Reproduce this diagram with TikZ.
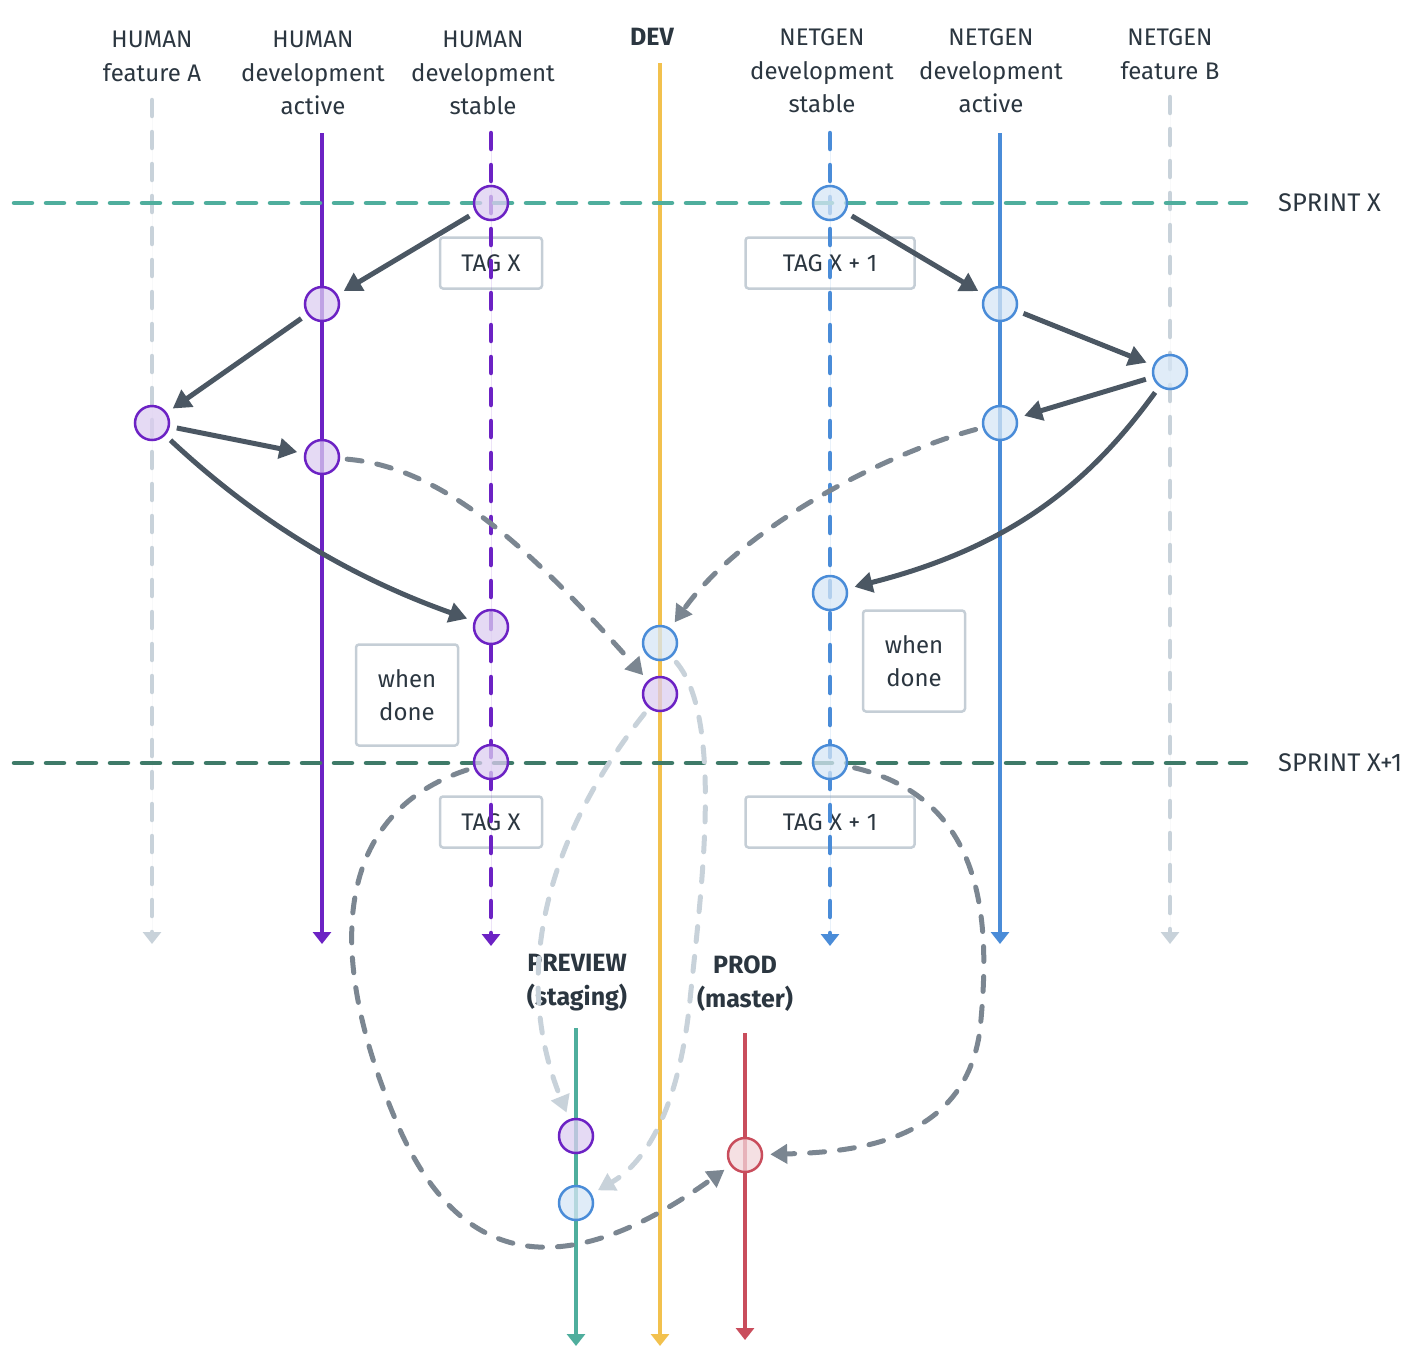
\documentclass[tikz,border=0pt]{standalone}
\usepackage{fontspec}
\setmainfont{Fira Sans}
\usetikzlibrary{arrows.meta}
\definecolor{cpurple}{HTML}{6C22C4}
\definecolor{cpurplef}{HTML}{DCCDF0}
\definecolor{cblue}{HTML}{4A8CD8}
\definecolor{cbluef}{HTML}{D6E6F5}
\definecolor{cred}{HTML}{C94D5C}
\definecolor{credf}{HTML}{F2D6DA}
\definecolor{cyellow}{HTML}{F2C14E}
\definecolor{cteal}{HTML}{4FAE9D}
\definecolor{cgreen}{HTML}{3E7A68}
\definecolor{clight}{HTML}{C8D2DA}
\definecolor{cdark}{HTML}{4B5763}
\definecolor{cgray}{HTML}{7B8691}
\definecolor{cbox}{HTML}{C5CED6}
\definecolor{ctext}{HTML}{2B3640}
\tikzset{
  lbl/.style={text=ctext,align=center,font=\fontsize{24}{33.5}\selectfont,inner sep=0},
  sprintlbl/.style={lbl,font=\fontsize{25.5}{34}\selectfont},
  boldlbl/.style={lbl,font=\fontsize{25}{34}\selectfont\bfseries},
  lane/.style={line width=4.5pt,-{Triangle[length=12pt,width=18pt]}},
  dlane/.style={lane,line cap=round,dash pattern=on 16pt off 16pt},
  sprintline/.style={line width=4.5pt,line cap=round,dash pattern=on 18pt off 14pt},
  commit/.style={circle,minimum size=34pt,inner sep=0,line width=2.5pt},
  pc/.style={commit,draw=cpurple,fill=cpurplef},
  bc/.style={commit,draw=cblue,fill=cbluef},
  rc/.style={commit,draw=cred,fill=credf},
  tagbox/.style={draw=cbox,line width=2.5pt,rounded corners=3pt,text=ctext,font=\fontsize{24}{33.5}\selectfont,align=center,inner sep=0},
  merge/.style={draw=cdark,line width=5pt,-{Triangle[length=18pt,width=20pt]},shorten <=7pt,shorten >=7pt},
  flow/.style={draw=cgray,line width=5pt,line cap=round,dash pattern=on 15pt off 15pt,-{Triangle[length=17pt,width=19pt]},shorten <=7pt,shorten >=7pt},
  lflow/.style={flow,draw=clight}
}
\begin{document}
\begin{tikzpicture}[x=1pt,y=-1pt]
\useasboundingbox (0,0) rectangle (1416,1352);
% headers
\node[lbl] (hA) at (152,56.5) {HUMAN\\feature A};
\node[lbl] (hDA) at (313,73) {HUMAN\\development\\active};
\node[lbl] (hDS) at (483,73) {HUMAN\\development\\stable};
\node[boldlbl] (hDev) at (652,37) {DEV};
\node[lbl] (nDS) at (822,71) {NETGEN\\development\\stable};
\node[lbl] (nDA) at (991,71) {NETGEN\\development\\active};
\node[lbl] (nB) at (1170,54) {NETGEN\\feature B};
\node[boldlbl] (hPrev) at (577,983) {PREVIEW\\(staging)};
\node[boldlbl] (hProd) at (745,984) {PROD\\(master)};
\node[sprintlbl,anchor=west] (sx) at (1278,203) {SPRINT X};
\node[sprintlbl,anchor=west] (sx1) at (1278,763) {SPRINT X+1};
% lane coordinates
\coordinate (aS) at (152,100); \coordinate (aE) at (152,944);
\coordinate (daS) at (322,133); \coordinate (daE) at (322,944);
\coordinate (dsS) at (491,133); \coordinate (dsE) at (491,946);
\coordinate (devS) at (660,63); \coordinate (devE) at (660,1346);
\coordinate (ndsS) at (830,133); \coordinate (ndsE) at (830,946);
\coordinate (ndaS) at (1000,133); \coordinate (ndaE) at (1000,944);
\coordinate (bS) at (1170,97); \coordinate (bE) at (1170,944);
\coordinate (pvS) at (576,1028); \coordinate (pvE) at (576,1346);
\coordinate (prS) at (745,1033); \coordinate (prE) at (745,1340);
\coordinate (s1a) at (14,203); \coordinate (s1b) at (1246,203);
\coordinate (s2a) at (14,763); \coordinate (s2b) at (1246,763);
% boxes
\node[tagbox,minimum width=102pt,minimum height=51pt] (t1) at (491,263) {TAG X};
\node[tagbox,minimum width=169pt,minimum height=51pt] (t2) at (830,263) {TAG X + 1};
\node[tagbox,minimum width=102pt,minimum height=101pt] (w1) at (407,695) {when\\done};
\node[tagbox,minimum width=102pt,minimum height=101pt] (w2) at (914,661) {when\\done};
\node[tagbox,minimum width=102pt,minimum height=51pt] (t3) at (491,822) {TAG X};
\node[tagbox,minimum width=169pt,minimum height=51pt] (t4) at (830,822) {TAG X + 1};
% lanes
\draw[dlane,draw=clight,fill=clight] (aS) -- (aE);
\draw[lane,draw=cpurple,fill=cpurple] (daS) -- (daE);
\draw[dlane,draw=cpurple,fill=cpurple] (dsS) -- (dsE);
\draw[dlane,draw=cblue,fill=cblue] (ndsS) -- (ndsE);
\draw[lane,draw=cblue,fill=cblue] (ndaS) -- (ndaE);
\draw[dlane,draw=clight,fill=clight] (bS) -- (bE);
\draw[lane,draw=cyellow,fill=cyellow] (devS) -- (devE);
\draw[lane,draw=cteal,fill=cteal] (pvS) -- (pvE);
\draw[lane,draw=cred,fill=cred] (prS) -- (prE);
\draw[sprintline,draw=cteal] (s1a) -- (s1b);
\draw[sprintline,draw=cgreen] (s2a) -- (s2b);
% commits
\node[pc,fill opacity=0.75] (hs1) at (491,203) {};
\node[pc,fill opacity=0.75] (ha1) at (322,304) {};
\node[pc,fill opacity=0.75] (fa1) at (152,423) {};
\node[pc,fill opacity=0.75] (ha2) at (322,457) {};
\node[pc,fill opacity=0.75] (hs2) at (491,627) {};
\node[pc,fill opacity=0.75] (hs3) at (491,762) {};
\node[bc,fill opacity=0.75] (devb) at (660,643) {};
\node[pc,fill opacity=0.75] (devp) at (660,694) {};
\node[bc,fill opacity=0.75] (ns1) at (830,203) {};
\node[bc,fill opacity=0.75] (na1) at (1000,304) {};
\node[bc,fill opacity=0.75] (fb1) at (1170,372) {};
\node[bc,fill opacity=0.75] (na2) at (1000,423) {};
\node[bc,fill opacity=0.75] (ns2) at (830,593) {};
\node[bc,fill opacity=0.75] (ns3) at (830,762) {};
\node[pc,fill opacity=0.75] (pvp) at (576,1136) {};
\node[bc,fill opacity=0.75] (pvb) at (576,1203) {};
\node[rc,fill opacity=0.75] (prod) at (745,1155) {};
% solid merges
\draw[merge] (hs1) -- (ha1);
\draw[merge] (ha1) -- (fa1);
\draw[merge] (fa1) -- (ha2);
\draw[merge] (fa1) .. controls (240,505) and (330,570) .. (hs2);
\draw[merge] (ns1) -- (na1);
\draw[merge] (na1) -- (fb1);
\draw[merge] (fb1) -- (na2);
\draw[merge] (fb1) .. controls (1095,475) and (1020,545) .. (ns2);
% dashed flows
\draw[flow] (ha2) .. controls (450,468) and (540,560) .. (devp);
\draw[flow] (na2) .. controls (880,455) and (740,530) .. (devb);
\draw[flow] (hs3) .. controls (330,815) and (325,960) .. (400,1130) .. controls (470,1285) and (585,1270) .. (prod);
\draw[flow] (ns3) .. controls (990,800) and (990,930) .. (980,1030) .. controls (965,1140) and (860,1152) .. (prod);
\draw[lflow] (devp) .. controls (560,820) and (505,960) .. (pvp);
\draw[lflow] (devb) .. controls (725,720) and (700,900) .. (690,1000) .. controls (680,1100) and (650,1160) .. (pvb);
\end{tikzpicture}
\end{document}
